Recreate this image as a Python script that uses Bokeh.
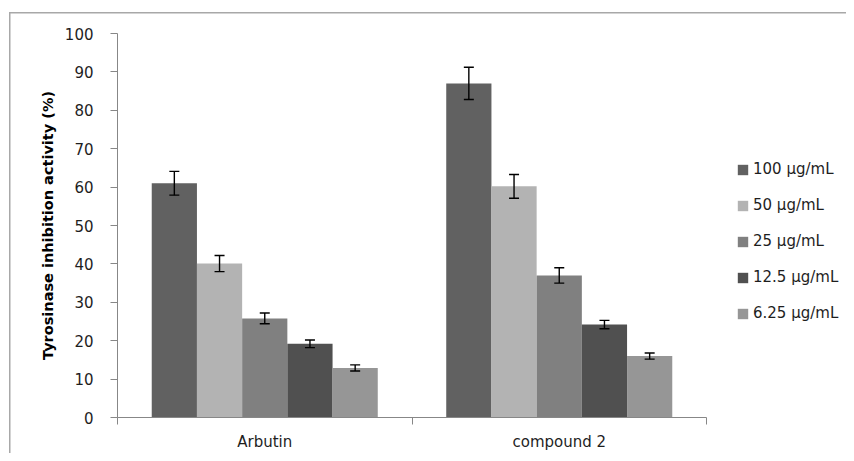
from bokeh.plotting import figure
from bokeh.models import (ColumnDataSource, Range1d, FixedTicker, Whisker, TeeHead,
                          Legend, LegendItem)
from bokeh.embed import file_html
from bokeh.resources import INLINE

# ---- data ----
categories = ["Arbutin", "compound 2"]
concentrations = ["100 µg/mL", "50 µg/mL", "25 µg/mL", "12.5 µg/mL", "6.25 µg/mL"]
arbutin_vals = [61.0, 40.1, 25.8, 19.2, 12.9]
arbutin_err = [3.1, 2.1, 1.4, 1.0, 0.8]
compound2_vals = [87.0, 60.2, 37.0, 24.2, 16.0]
compound2_err = [4.2, 3.1, 2.0, 1.1, 0.8]
colors = ["#616161", "#b3b3b3", "#808080", "#505050", "#969696"]
y_ticks = [0, 10, 20, 30, 40, 50, 60, 70, 80, 90, 100]

FONT = "DejaVu Sans"
TXT = "#1e1e1e"
AXC = "#878787"
EDGE = "#a8a8a8"

W, H = 846, 453
LEFT, TOP, BOTTOM = 117, 33, 35
AXIS_END_PX = 706          # where the category axis ends (pixels)
ncat = len(categories)
x_end = ncat * (W - LEFT) / (AXIS_END_PX - LEFT)   # frame extends under the legend

p = figure(width=W, height=H, output_backend="svg", toolbar_location=None,
           x_range=Range1d(0, x_end), y_range=Range1d(0, 100),
           min_border_left=LEFT, min_border_right=0, min_border_top=TOP, min_border_bottom=BOTTOM)
p.outline_line_color = None
p.grid.visible = False
p.background_fill_color = "white"
p.border_fill_color = None
p.styles = {
    "background-color": "white",
    "background-image": f"linear-gradient({EDGE}, {EDGE}), linear-gradient({EDGE}, {EDGE})",
    "background-size": "100% 1.5px, 1.5px 100%",
    "background-position": "9px 12px, 9px 12px",
    "background-repeat": "no-repeat",
}

bar_w = 0.1535
n = len(concentrations)
series_vals = [arbutin_vals, compound2_vals]
series_err = [arbutin_err, compound2_err]

legend_items = []
for i, lab in enumerate(concentrations):
    xs = [c + 0.5 + (i - (n - 1) / 2) * bar_w for c in range(ncat)]
    tops = [series_vals[c][i] for c in range(ncat)]
    errs = [series_err[c][i] for c in range(ncat)]
    src = ColumnDataSource(dict(x=xs, top=tops,
                                upper=[t + e for t, e in zip(tops, errs)],
                                lower=[t - e for t, e in zip(tops, errs)]))
    r = p.vbar(x="x", top="top", width=bar_w, bottom=0, source=src,
               fill_color=colors[i], line_color=None)
    legend_items.append(LegendItem(label=lab, renderers=[r]))
    w = Whisker(base="x", upper="upper", lower="lower", source=src, level="overlay",
                line_color="black", line_width=1.4,
                upper_head=TeeHead(size=10, line_color="black", line_width=1.4),
                lower_head=TeeHead(size=10, line_color="black", line_width=1.4))
    p.add_layout(w)

# y axis
ya = p.yaxis[0]
ya.ticker = FixedTicker(ticks=y_ticks)
ya.axis_label = "Tyrosinase inhibition activity (%)"
ya.axis_label_text_font = FONT
ya.axis_label_text_font_style = "bold"
ya.axis_label_text_font_size = "14.5px"
ya.axis_label_text_color = "black"
ya.axis_label_standoff = 6
ya.major_label_text_font = FONT
ya.major_label_text_font_size = "15px"
ya.major_label_text_color = TXT
ya.major_label_standoff = 17
ya.major_tick_out = 7
ya.major_tick_in = 0
ya.minor_tick_out = 0
ya.minor_tick_in = 0
ya.axis_line_color = AXC
ya.major_tick_line_color = AXC

# x axis
xa = p.xaxis[0]
cat_pos = [c + 0.5 for c in range(ncat)]
xa.bounds = (0, ncat)
xa.ticker = FixedTicker(ticks=cat_pos, minor_ticks=list(range(ncat + 1)))
xa.major_label_overrides = {pos: name for pos, name in zip(cat_pos, categories)}
xa.major_label_text_font = FONT
xa.major_label_text_font_size = "15px"
xa.major_label_text_color = TXT
xa.major_label_standoff = 8
xa.major_tick_out = 0
xa.major_tick_in = 0
xa.minor_tick_out = 7
xa.minor_tick_in = 0
xa.minor_tick_line_color = AXC
xa.axis_line_color = AXC

legend = Legend(items=legend_items, location=(619, 95),
                glyph_width=13, glyph_height=13, label_height=13,
                label_standoff=4, spacing=18, padding=0, margin=0,
                border_line_color=None, background_fill_alpha=0,
                label_text_font=FONT, label_text_font_size="15px",
                label_text_color=TXT)
p.add_layout(legend, "center")

open("out.html", "w").write(file_html(p, INLINE))
